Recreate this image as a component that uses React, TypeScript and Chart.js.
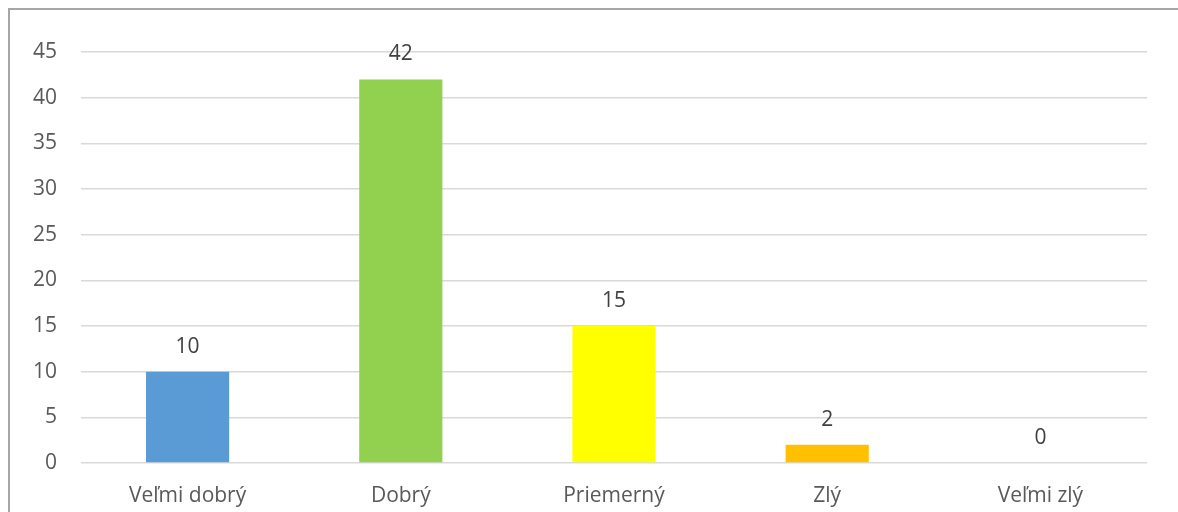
import React, { useEffect, useRef } from "react";
import { Chart, registerables } from "chart.js";

Chart.register(...registerables);

const categories = ["Veľmi dobrý", "Dobrý", "Priemerný", "Zlý", "Veľmi zlý"];
const values = [10, 42, 15, 2, 0];
const barColors = ["#5B9BD5", "#92D050", "#FFFF00", "#FFC000", "#A5A5A5"];
const yTicks = [0, 5, 10, 15, 20, 25, 30, 35, 40, 45];

const FONT = "'Open Sans', 'Liberation Sans', sans-serif";
const TEXT = "#595959";

const dataLabels = {
  id: "dataLabels",
  afterDatasetsDraw(chart: any) {
    const { ctx } = chart;
    const meta = chart.getDatasetMeta(0);
    ctx.save();
    ctx.font = `21px ${FONT}`;
    ctx.fillStyle = "#404040";
    ctx.textAlign = "center";
    ctx.textBaseline = "middle";
    meta.data.forEach((el: any, i: number) => {
      ctx.fillText(String(values[i]), el.x, el.y - 25);
    });
    ctx.restore();
  },
};

export default function App() {
  const ref = useRef<HTMLCanvasElement>(null);
  useEffect(() => {
    const chart = new Chart(ref.current!, {
      type: "bar",
      data: {
        labels: categories,
        datasets: [
          {
            data: values,
            backgroundColor: barColors,
            barPercentage: 0.39,
            categoryPercentage: 1,
          },
        ],
      },
      plugins: [dataLabels],
      options: {
        responsive: false,
        animation: false,
        layout: { padding: { top: 42, right: 31, left: 0, bottom: 0 } },
        plugins: { legend: { display: false }, tooltip: { enabled: false } },
        scales: {
          x: {
            grid: { display: false },
            border: { display: false },
            ticks: { color: TEXT, font: { family: FONT, size: 21 }, padding: 12 },
            afterFit(scale: any) {
              scale.height = 49;
            },
          },
          y: {
            min: 0,
            max: 45,
            afterBuildTicks(scale: any) {
              scale.ticks = yTicks.map((v) => ({ value: v }));
            },
            grid: { color: "#D9D9D9", lineWidth: 1.5, drawTicks: false },
            border: { display: false },
            ticks: { color: TEXT, font: { family: FONT, size: 21 }, padding: 24 },
            afterFit(scale: any) {
              scale.width = 71;
            },
          },
        },
      },
    });
    return () => chart.destroy();
  }, []);
  return (
    <div
      style={{
        position: "absolute",
        left: 8,
        top: 8,
        width: 1170,
        height: 504,
        borderLeft: "2px solid #A6A6A6",
        borderTop: "2px solid #A6A6A6",
        boxSizing: "border-box",
        overflow: "hidden",
      }}
    >
      <canvas ref={ref} width={1168} height={502} style={{ display: "block" }} />
    </div>
  );
}
